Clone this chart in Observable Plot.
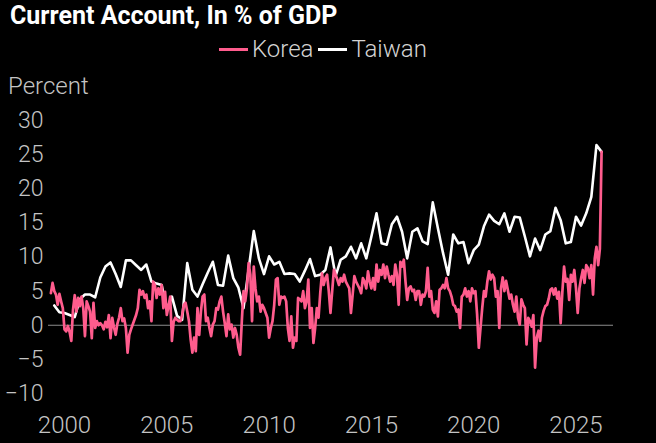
<!DOCTYPE html>
<html><head><meta charset="utf-8">
<script src="https://cdn.jsdelivr.net/npm/d3@7"></script>
<script src="https://cdn.jsdelivr.net/npm/@observablehq/plot@0.6"></script>
<style>
html,body{margin:0;padding:0;background:#000;}
body{width:656px;height:443px;overflow:hidden;font-family:Roboto,"Noto Sans",sans-serif;position:relative;}
#title{position:absolute;left:10px;top:1px;color:#fff;font-weight:700;font-size:25px;white-space:nowrap;}
#legend{position:absolute;left:219px;top:35px;display:flex;align-items:center;color:#d4d4d4;font-size:24px;font-weight:300;white-space:nowrap;}
#legend .sw{display:inline-block;width:29px;height:3px;margin-right:4px;}
#legend .item{display:flex;align-items:center;margin-right:5px;}
#ylabel{position:absolute;left:8px;top:72px;color:#c4c4c4;font-size:24px;font-weight:300;}
#chart{position:absolute;left:0;top:100px;}
</style>
</head><body>
<div id="title">Current Account, In % of GDP</div>
<div id="legend"></div>
<div id="ylabel">Percent</div>
<div id="chart"></div>
<script>
const seriesNames = ["Korea", "Taiwan"];
const seriesColors = ["#ff5c8d", "#ffffff"];
const xTicks = [2000, 2005, 2010, 2015, 2020, 2025];
const yTicks = [-10, -5, 0, 5, 10, 15, 20, 25, 30];

// Korea: monthly, starting May 1999
const koreaStart = 1999 + 4 / 12;
const koreaValues = [
  4.7, 6.2, 5.0, 4.5, 3.0, 4.6, 3.5, 2.5,
  -0.6, -0.9, -0.1, -1.0, -2.3, 2.3, 4.4, 2.0, 4.0, 2.8, 4.2, 2.5,
  -1.6, 3.5, 2.8, 2.0, -1.9, 3.3, -0.4, 0.6, 0.0, 0.3, 0.0, -0.6,
  0.5, -0.3, 1.5, -1.9, 1.1, -0.3, -1.4, 0.2, 1.1, 2.5, 0.6, 1.0,
  -0.4, -4.0, -1.4, -0.6, 0.1, 0.8, 1.5, 2.5, 5.2, 4.5, 5.0, 4.0,
  4.5, 2.5, 3.5, 0.6, 6.4, 5.9, 4.0, 5.4, 4.5, 5.9, 2.5, 4.9,
  1.5, 2.8, 4.2, -2.3, 0.5, 1.1, 0.8, 0.6, 0.6, 1.5, 3.0, 3.3,
  2.0, 0.6, -2.1, -4.0, -1.8, -3.8, 2.5, -1.4, 2.0, 4.2, 4.5, 0.6,
  1.1, -0.4, -1.6, 0.1, 0.6, 2.5, 2.3, 3.5, 4.2, 2.0, 0.3, -1.6,
  1.6, -0.6, 0.1, -1.8, -0.4, -1.4, -3.3, -4.3, 0.6, 5.0, 3.5, 5.4,
  9.1, 7.4, 0.6, 8.6, 5.4, 3.5, 4.2, 2.0, 3.0, 2.5, 1.8, 1.1,
  -1.8, -0.4, 0.6, 3.0, 6.7, 6.9, 3.0, 4.2, 4.0, 4.2, 3.5, -0.4,
  -2.3, 1.3, -3.3, -1.8, -2.3, 4.0, 3.8, 3.5, 5.0, 2.5, 3.5, 6.7,
  -0.4, 2.5, -2.6, -0.4, 2.5, 1.1, 4.7, 7.6, 5.9, 6.9, 7.4, 5.0,
  1.8, 5.0, 8.1, 7.4, 6.7, 5.9, 6.9, 6.4, 7.4, 6.4, 5.9, 5.4,
  1.8, 4.5, 7.2, 6.4, 5.9, 5.4, 4.7, 6.9, 6.4, 5.4, 7.9, 6.4,
  5.4, 6.9, 5.2, 8.9, 6.4, 8.1, 7.4, 8.9, 6.9, 8.6, 7.4, 6.4,
  7.2, 5.9, 8.9, 7.4, 3.0, 9.3, 8.6, 9.6, 6.4, 3.7, 5.4, 5.7,
  5.0, 5.2, 3.7, 5.0, 5.0, 3.0, 4.5, 4.2, 5.0, 8.4, 4.2, 5.0,
  2.3, 1.8, 3.5, 1.3, 5.2, 5.4, 5.9, 5.4, 6.9, 5.4, 5.0, 4.2,
  3.0, 2.8, 2.0, 2.3, -0.4, 4.2, 4.5, 5.4, 4.2, 5.0, 3.5, 5.4,
  4.7, 5.0, 1.6, -3.3, -0.4, 2.5, 5.0, 4.2, 6.4, 7.9, 6.7, 7.4,
  6.9, 4.2, 5.0, -0.4, 5.4, 7.0, 5.0, 6.5, 5.2, 3.9, 4.5, 3.0,
  2.0, 4.2, 1.1, 0.1, 3.8, 3.0, 2.5, -2.8, 1.1, 0.6, -0.2, 1.5,
  -6.2, -1.8, -0.8, -2.3, 1.1, 2.1, 2.8, 3.0, 3.9, 5.2, 5.4, 4.5,
  5.4, 3.9, 4.9, 0.3, 4.9, 8.6, 6.4, 6.8, 3.7, 7.4, 6.4, 8.1,
  5.4, 1.8, 5.4, 6.9, 8.1, 6.2, 8.8, 8.4, 6.9, 8.8, 4.5, 9.8,
  11.5, 8.8, 11.2, 25.4
];

// Taiwan: quarterly, starting mid-1999
const taiwanStart = 1999.5;
const taiwanValues = [
  2.9, 1.9,
  1.8, 1.5, 1.2, 3.8,
  4.5, 4.5, 4.1, 7.0,
  8.6, 9.2, 7.5, 5.6,
  9.5, 9.5, 8.8, 8.1,
  8.9, 6.4, 6.1, 5.9,
  2.3, 4.2, 1.4, 0.8,
  9.1, 5.2, 4.2, 6.0,
  7.7, 9.3, 5.9, 5.8,
  10.2, 6.9, 5.5, 2.5,
  8.2, 13.8, 9.8, 7.5,
  10.1, 8.9, 9.3, 7.5,
  7.6, 7.5, 6.4, 8.0,
  9.7, 7.2, 7.4, 8.1,
  11.4, 7.2, 9.6, 10.1,
  11.5, 9.8, 12.0, 9.8,
  13.0, 16.4, 12.0, 11.8,
  14.8, 15.9, 13.7, 9.8,
  13.7, 14.2, 12.3, 11.9,
  18.0, 14.2, 10.6, 7.4,
  13.3, 12.0, 12.2, 9.1,
  11.0, 11.8, 14.5, 16.2,
  15.3, 14.8, 16.4, 13.7,
  15.9, 15.8, 13.0, 10.1,
  12.7, 11.0, 13.3, 13.8,
  17.2, 15.4, 12.0, 12.2,
  15.9, 14.6, 16.4, 18.8,
  26.4, 25.4
];

const korea = koreaValues.map((v, i) => ({t: koreaStart + i / 12, v}));
const taiwan = taiwanValues.map((v, i) => ({t: taiwanStart + i / 4, v}));

// legend
const legend = document.getElementById("legend");
seriesNames.forEach((name, i) => {
  const item = document.createElement("span");
  item.className = "item";
  const sw = document.createElement("span");
  sw.className = "sw";
  sw.style.background = seriesColors[i];
  item.appendChild(sw);
  item.appendChild(document.createTextNode(name));
  legend.appendChild(item);
});

const chart = Plot.plot({
  width: 656,
  height: 343,
  marginLeft: 48,
  marginRight: 43,
  marginTop: 20,
  marginBottom: 50,
  style: {background: "transparent", color: "#c4c4c4", fontFamily: "Roboto, 'Noto Sans', sans-serif", fontSize: "23px", fontWeight: 300},
  x: {domain: [1999.218, 2026.833]},
  y: {domain: [-10, 30]},
  marks: [
    Plot.axisY({ticks: yTicks, tickSize: 0, tickPadding: 5, label: null}),
    Plot.axisX({ticks: xTicks, tickSize: 0, tickPadding: 22, label: null, tickFormat: d => String(d), fontSize: 24}),
    Plot.ruleY([0], {stroke: "#8c8c8c", strokeWidth: 1}),
    Plot.line(taiwan, {x: "t", y: "v", stroke: seriesColors[1], strokeWidth: 2.6}),
    Plot.line(korea, {x: "t", y: "v", stroke: seriesColors[0], strokeWidth: 2.7})
  ]
});
document.getElementById("chart").appendChild(chart);
</script>
</body></html>
